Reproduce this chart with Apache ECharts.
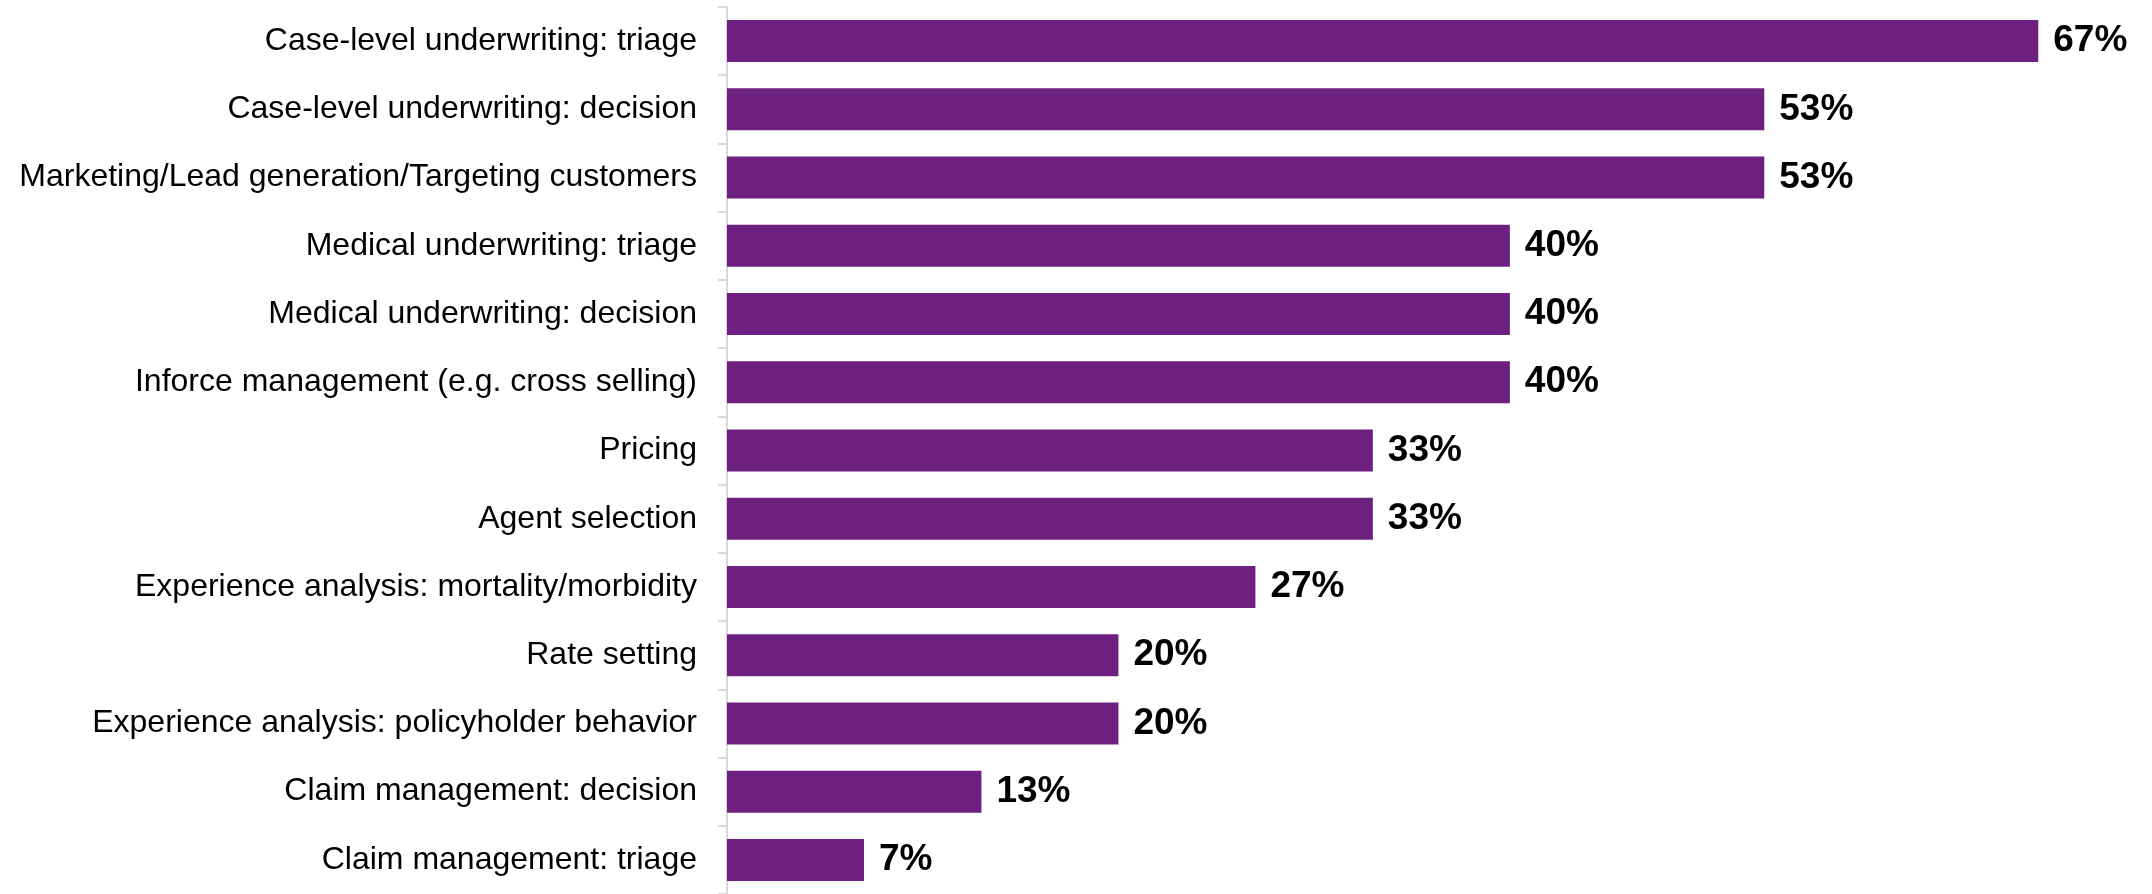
<!DOCTYPE html>
<html>
<head>
<meta charset="utf-8">
<title>AI use cases</title>
<script src="https://cdn.jsdelivr.net/npm/echarts@6/dist/echarts.min.js"></script>
<style>
  html, body { margin: 0; padding: 0; background: #ffffff; }
  #chart { width: 2152px; height: 894px; }
</style>
</head>
<body>
<div id="chart"></div>
<script>
// Application areas, listed top to bottom
const categories = [
  'Case-level underwriting: triage',
  'Case-level underwriting: decision',
  'Marketing/Lead generation/Targeting customers',
  'Medical underwriting: triage',
  'Medical underwriting: decision',
  'Inforce management (e.g. cross selling)',
  'Pricing',
  'Agent selection',
  'Experience analysis: mortality/morbidity',
  'Rate setting',
  'Experience analysis: policyholder behavior',
  'Claim management: decision',
  'Claim management: triage'
];

// Share of respondents, in percent
const shares = [67, 53, 53, 40, 40, 40, 33, 33, 27, 20, 20, 13, 7];

const FONT = 'Arial, "Liberation Sans", Helvetica, sans-serif';

const chart = echarts.init(document.getElementById('chart'), null, { renderer: 'canvas' });

chart.setOption({
  animation: false,
  backgroundColor: '#ffffff',
  grid: { left: 727, right: 55, top: 7, bottom: -7, containLabel: false },
  xAxis: {
    type: 'value',
    min: 0,
    max: 70,
    show: false,
    splitLine: { show: false }
  },
  yAxis: {
    type: 'category',
    inverse: true,
    data: categories,
    axisLine: { show: true, lineStyle: { color: '#d9d9d9', width: 2 } },
    axisTick: { show: true, length: 9, lineStyle: { color: '#d9d9d9', width: 2 } },
    axisLabel: {
      margin: 30,
      color: '#000000',
      fontFamily: FONT,
      fontSize: 32
    }
  },
  series: [{
    type: 'bar',
    data: shares,
    barWidth: 42,
    itemStyle: { color: '#6e2080' },
    label: {
      show: true,
      position: 'right',
      distance: 15,
      color: '#000000',
      fontFamily: FONT,
      fontWeight: 'bold',
      fontSize: 37,
      formatter: p => p.value + '%'
    }
  }]
});
</script>
</body>
</html>
